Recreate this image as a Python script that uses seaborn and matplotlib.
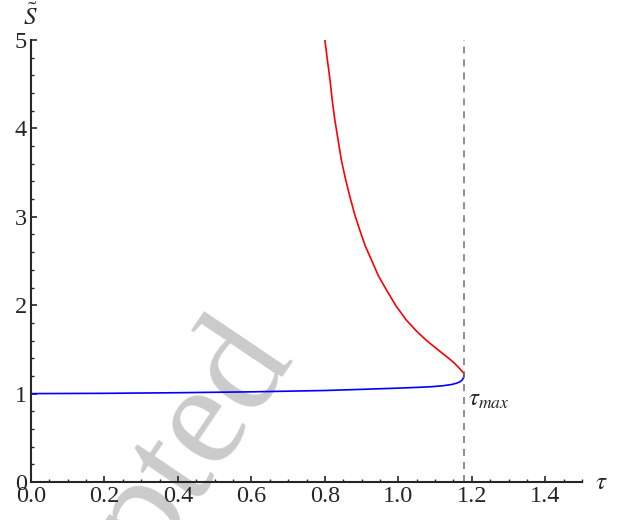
import matplotlib
matplotlib.use("Agg")
import matplotlib.pyplot as plt
import seaborn as sns
from matplotlib.ticker import MultipleLocator

# lower branch (blue)
tau_low = [0.0, 0.2, 0.4, 0.6, 0.8, 0.9, 1.0, 1.05, 1.09, 1.12, 1.145, 1.158,
           1.167, 1.173, 1.177, 1.179]
s_low = [1.0, 1.003, 1.01, 1.02, 1.035, 1.048, 1.062, 1.07, 1.078, 1.088, 1.103, 1.117,
         1.132, 1.15, 1.175, 1.215]

# upper branch (red)
tau_up = [0.800, 0.807, 0.814, 0.820, 0.827, 0.836, 0.845, 0.856, 0.868, 0.881,
          0.895, 0.910, 0.927, 0.946, 0.968, 0.994, 1.022, 1.050, 1.077, 1.105,
          1.131, 1.150, 1.163, 1.172, 1.177, 1.179]
s_up = [5.00, 4.77, 4.55, 4.32, 4.10, 3.87, 3.64, 3.43, 3.23, 3.03,
        2.85, 2.67, 2.51, 2.33, 2.17, 1.99, 1.83, 1.705, 1.60, 1.505,
        1.42, 1.355, 1.30, 1.26, 1.235, 1.215]

tau_max = 1.179

sns.set_style("ticks")
plt.rcParams['font.family'] = ['Liberation Serif', 'DejaVu Serif']
plt.rcParams['mathtext.fontset'] = 'stix'

fig = plt.figure(figsize=(6.34, 5.2), dpi=100)
ax = fig.add_axes([31 / 634, 38 / 520, 551 / 634, 442 / 520])
ax.patch.set_alpha(0)

sns.lineplot(x=tau_low, y=s_low, sort=False, estimator=None, color="blue", lw=1.2, ax=ax)
sns.lineplot(x=tau_up, y=s_up, sort=False, estimator=None, color="red", lw=1.2, ax=ax)
ax.axvline(tau_max, ymin=0, ymax=1, color="#707070", lw=1.1, dashes=(4.6, 3.9))

ax.set_xlim(0, 1.5)
ax.set_ylim(0, 5)
sns.despine(ax=ax)
for sp in ["left", "bottom"]:
    ax.spines[sp].set_linewidth(1.5)
ax.xaxis.set_major_locator(MultipleLocator(0.2))
ax.xaxis.set_minor_locator(MultipleLocator(0.05))
ax.yaxis.set_major_locator(MultipleLocator(1))
ax.yaxis.set_minor_locator(MultipleLocator(0.2))
ax.xaxis.set_major_formatter(lambda v, p: f"{v:.1f}")
ax.tick_params(which="major", direction="in", length=4.5, width=1.2, labelsize=17.5, pad=3)
ax.tick_params(which="minor", direction="in", length=2.5, width=1.0)

fig.text(30 / 634, 1 - 25 / 520, r"$\tilde{S}$", fontsize=18, ha="center", va="baseline")
fig.text(601 / 634, 1 - 483 / 520, r"$\tau$", fontsize=18, ha="center", va="center")
ax.text(1.19, 0.93, r"$\tau_{max}$", fontsize=18, ha="left", va="center")

fig.text(295 / 634, 1 - 358 / 520, "Accepted", fontsize=106, color="#cbcbcb",
         rotation=56, rotation_mode="anchor", ha="right", va="baseline", zorder=-1)

fig.savefig("out.png", dpi=100)
